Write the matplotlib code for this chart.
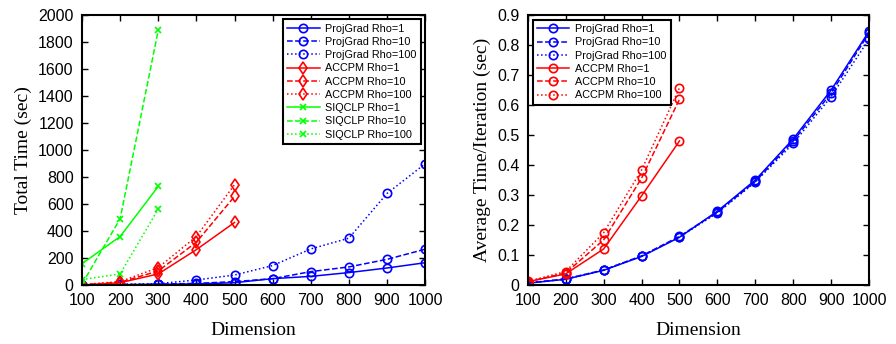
import numpy as np
import matplotlib.pyplot as plt

# Data
dims = [100, 200, 300, 400, 500, 600, 700, 800, 900, 1000]
dims_accpm = [100, 200, 300, 400, 500]
dims_siq = [100, 200, 300]

# Total time (sec)
pg_total_1 = [0, 2, 5, 8, 17, 47, 64, 92, 126, 165]
pg_total_10 = [0, 3, 6, 12, 25, 47, 99, 134, 190, 265]
pg_total_100 = [0, 5, 10, 37, 74, 144, 267, 347, 678, 898]
ac_total_1 = [0, 17, 82, 262, 463]
ac_total_10 = [2, 20, 104, 317, 656]
ac_total_100 = [3, 25, 129, 359, 743]
siq_total_1 = [158, 359, 730]
siq_total_10 = [7, 490, 1886]
siq_total_100 = [40, 82, 562]

# Average time per iteration (sec)
pg_avg_1 = [0.006, 0.019, 0.049, 0.095, 0.159, 0.246, 0.350, 0.487, 0.650, 0.846]
pg_avg_10 = [0.007, 0.020, 0.050, 0.097, 0.162, 0.243, 0.345, 0.480, 0.640, 0.840]
pg_avg_100 = [0.006, 0.020, 0.050, 0.096, 0.160, 0.240, 0.343, 0.472, 0.628, 0.820]
ac_avg_1 = [0.011, 0.037, 0.120, 0.297, 0.480]
ac_avg_10 = [0.011, 0.040, 0.150, 0.356, 0.619]
ac_avg_100 = [0.012, 0.045, 0.174, 0.383, 0.657]

blue = (0, 0, 1)
red = (1, 0, 0)
green = (0, 1, 0)
styles = ["-", "--", ":"]
rhos = ["1", "10", "100"]

sans = ["Liberation Sans", "DejaVu Sans"]
serif = ["Liberation Serif", "DejaVu Serif"]
plt.rcParams["font.family"] = sans

fig = plt.figure(figsize=(8.96, 3.44), dpi=100)
ax1 = fig.add_axes([0.0915, 0.1715, 0.383, 0.785])
ax2 = fig.add_axes([0.589, 0.1715, 0.381, 0.785])

mk = dict(markersize=6, markerfacecolor="none", markeredgewidth=1.2, linewidth=1.1)

# Left panel
for ls, rho, ys in zip(styles, rhos, [pg_total_1, pg_total_10, pg_total_100]):
    ax1.plot(dims, ys, color=blue, linestyle=ls, marker="o",
             label="ProjGrad Rho=" + rho, **mk)
for ls, rho, ys in zip(styles, rhos, [ac_total_1, ac_total_10, ac_total_100]):
    ax1.plot(dims_accpm, ys, color=red, linestyle=ls, marker="d",
             label="ACCPM Rho=" + rho, **mk)
for ls, rho, ys in zip(styles, rhos, [siq_total_1, siq_total_10, siq_total_100]):
    ax1.plot(dims_siq, ys, color=green, linestyle=ls, marker="x",
             label="SIQCLP Rho=" + rho, markersize=4.5, markeredgewidth=1.2,
             linewidth=1.1)

ax1.set_xlim(100, 1000)
ax1.set_ylim(0, 2000)
ax1.set_yticks(np.arange(0, 2001, 200))
ax1.set_ylabel("Total Time (sec)", family=serif, fontsize=14)

# Right panel
for ls, rho, ys in zip(styles, rhos, [pg_avg_1, pg_avg_10, pg_avg_100]):
    ax2.plot(dims, ys, color=blue, linestyle=ls, marker="o",
             label="ProjGrad Rho=" + rho, **mk)
for ls, rho, ys in zip(styles, rhos, [ac_avg_1, ac_avg_10, ac_avg_100]):
    ax2.plot(dims_accpm, ys, color=red, linestyle=ls, marker="o",
             label="ACCPM Rho=" + rho, **mk)

ax2.set_xlim(100, 1000)
ax2.set_ylim(0, 0.9)
ax2.set_yticks(np.arange(0, 0.91, 0.1))
ax2.set_yticklabels(["0"] + ["%.1f" % v for v in np.arange(0.1, 0.91, 0.1)])
ax2.set_ylabel("Average Time/Iteration (sec)", family=serif, fontsize=14)

for ax in (ax1, ax2):
    ax.set_xticks(dims)
    ax.set_xlabel("Dimension", family=serif, fontsize=14, labelpad=10)
    ax.tick_params(direction="in", top=True, right=True, labelsize=11.5,
                   length=4, width=1, pad=6)
    for sp in ax.spines.values():
        sp.set_linewidth(1.5)

leg_kw = dict(fontsize=7.8, handlelength=3, labelspacing=0.3, borderpad=0.4,
              handletextpad=0.5, fancybox=False, framealpha=1,
              edgecolor="black")
leg1 = ax1.legend(loc="upper right", borderaxespad=0.4, **leg_kw)
leg1.get_frame().set_linewidth(1.5)
leg2 = ax2.legend(loc="upper left", borderaxespad=0.45, **leg_kw)
leg2.get_frame().set_linewidth(1.5)

fig.savefig("out.png", dpi=100)
plt.close(fig)
